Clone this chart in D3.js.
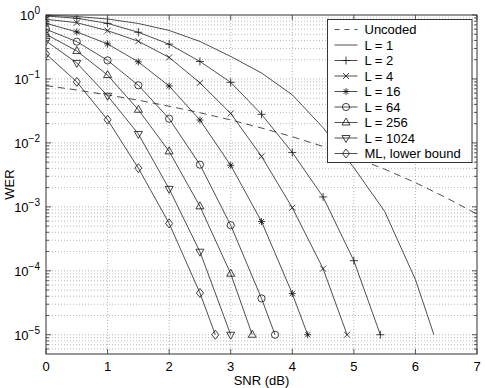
<!DOCTYPE html>
<html><head><meta charset="utf-8">
<script src="https://cdn.jsdelivr.net/npm/d3@7"></script>
<style>body{margin:0;background:#fff}svg{display:block}text{font-family:"Liberation Sans",Arial,sans-serif;fill:#000}</style>
</head><body><svg id="c" width="485" height="388"></svg>
<script>
// ---- data ----
const snrHalf = [0,0.5,1,1.5,2,2.5,3,3.5,4,4.5,5,5.5,6,6.5,7];
const uncodedX = [0,0.5,1,1.5,2,2.5,3,3.5,4,4.5,5,5.5,6,6.5,7];
const uncodedY = [0.0786,0.0671,0.0563,0.0465,0.0375,0.0296,0.0229,0.0171,0.0125,0.0088,0.00595,0.00388,0.00239,0.00139,0.00077];
const L1X = [0,0.5,1,1.5,2,2.5,3,3.5,4,4.5,5,5.5,6,6.3];
const L1Y = [0.989,0.947,0.866,0.737,0.573,0.386,0.225,0.124,0.0565,0.0173,0.0041,0.00085,0.000073,0.00001];
const L2X = [0,0.5,1,1.5,2,2.5,3,3.5,4,4.5,5,5.43];
const L2Y = [0.965,0.89,0.74,0.537,0.35,0.188,0.0885,0.028,0.0071,0.00143,0.000144,0.00001];
const L4X = [0,0.5,1,1.5,2,2.5,3,3.5,4,4.5,4.89];
const L4Y = [0.857,0.758,0.569,0.389,0.217,0.0869,0.0289,0.00616,0.00097,0.000108,0.00001];
const L16X = [0,0.5,1,1.5,2,2.5,3,3.5,4,4.25];
const L16Y = [0.742,0.543,0.353,0.185,0.0775,0.0228,0.00446,0.00059,0.000044,0.00001];
const L64X = [0,0.5,1,1.5,2,2.5,3,3.5,3.72];
const L64Y = [0.598,0.383,0.195,0.0795,0.0239,0.00457,0.000516,0.000037,0.00001];
const L256X = [0,0.5,1,1.5,2,2.5,3,3.35];
const L256Y = [0.5,0.274,0.115,0.033,0.00737,0.00102,0.00009,0.00001];
const L1024X = [0,0.5,1,1.5,2,2.5,3];
const L1024Y = [0.393,0.178,0.0545,0.0138,0.00191,0.000199,0.00001];
const MLX = [0,0.5,1,1.5,2,2.5,2.75];
const MLY = [0.246,0.090,0.023,0.00403,0.00055,0.000045,0.00001];
const seriesNames = ["Uncoded","L = 1","L = 2","L = 4","L = 16","L = 64","L = 256","L = 1024","ML, lower bound"];
const xTicks = [0,1,2,3,4,5,6,7];
const yTickExps = [0,-1,-2,-3,-4,-5];

// ---- layout ----
const W=485,H=388, m={l:46,r:8,t:15,b:34};
const svg=d3.select("#c");
const x=d3.scaleLinear().domain([0,7]).range([m.l,W-m.r]);
const y=d3.scaleLog().domain([5e-6,1]).range([H-m.b,m.t]);
const X0=m.l,X1=W-m.r,Y0=H-m.b,Y1=m.t;

// grid
const grid=svg.append("g").attr("stroke","#9a9a9a").attr("stroke-width",0.7).attr("stroke-dasharray","1,2");
const minorVals=[];
for(let e=-6;e<0;e++){for(let k=1;k<10;k++){const v=k*Math.pow(10,e); if(v>=5e-6&&v<=1) minorVals.push(v);}}
minorVals.push(1);
minorVals.forEach(v=>{ if(v<1) grid.append("line").attr("x1",X0).attr("x2",X1).attr("y1",y(v)).attr("y2",y(v)); });
xTicks.forEach(t=>{ if(t>0&&t<7) grid.append("line").attr("x1",x(t)).attr("x2",x(t)).attr("y1",Y0).attr("y2",Y1); });

// ticks (inward, all sides)
const tk=svg.append("g").attr("stroke","#333").attr("stroke-width",0.8);
xTicks.forEach(t=>{
  tk.append("line").attr("x1",x(t)).attr("x2",x(t)).attr("y1",Y0).attr("y2",Y0-5);
  tk.append("line").attr("x1",x(t)).attr("x2",x(t)).attr("y1",Y1).attr("y2",Y1+5);
});
minorVals.forEach(v=>{
  const major=Math.abs(Math.log10(v)-Math.round(Math.log10(v)))<1e-9;
  const len=major?5:3;
  tk.append("line").attr("x1",X0).attr("x2",X0+len).attr("y1",y(v)).attr("y2",y(v));
  tk.append("line").attr("x1",X1).attr("x2",X1-len).attr("y1",y(v)).attr("y2",y(v));
});

// axis labels
const lab=svg.append("g").attr("font-size",13);
xTicks.forEach(t=>{ lab.append("text").attr("x",x(t)).attr("y",Y0+17).attr("text-anchor","middle").text(t); });
yTickExps.forEach(e=>{
  const t=lab.append("text").attr("x",X0-6).attr("y",y(Math.pow(10,e))+5).attr("text-anchor","end");
  t.append("tspan").text("10");
  t.append("tspan").attr("dy",-6).attr("font-size",10).text(e<0?"\u2212"+(-e):e);
});
lab.append("text").attr("x",(X0+X1)/2).attr("y",H-3).attr("text-anchor","middle").text("SNR (dB)");
lab.append("text").attr("transform",`translate(14,${(Y0+Y1)/2}) rotate(-90)`).attr("text-anchor","middle").text("WER");

// markers
function marker(g,type,cx,cy){
  const s=g.append("path").attr("fill","none").attr("stroke","#111").attr("stroke-width",0.8);
  let d="";
  if(type==="+") d=`M${cx-4},${cy}H${cx+4}M${cx},${cy-4}V${cy+4}`;
  else if(type==="x") d=`M${cx-3},${cy-3}L${cx+3},${cy+3}M${cx-3},${cy+3}L${cx+3},${cy-3}`;
  else if(type==="*") d=`M${cx-3.5},${cy}H${cx+3.5}M${cx},${cy-3.5}V${cy+3.5}M${cx-2.5},${cy-2.5}L${cx+2.5},${cy+2.5}M${cx-2.5},${cy+2.5}L${cx+2.5},${cy-2.5}`;
  else if(type==="o") d=`M${cx+3.6},${cy}A3.6,3.6 0 1 1 ${cx-3.6},${cy}A3.6,3.6 0 1 1 ${cx+3.6},${cy}Z`;
  else if(type==="^") d=`M${cx},${cy-4.5}L${cx+4},${cy+2.5}L${cx-4},${cy+2.5}Z`;
  else if(type==="v") d=`M${cx},${cy+4.5}L${cx+4},${cy-2.5}L${cx-4},${cy-2.5}Z`;
  else if(type==="d") d=`M${cx},${cy-4.5}L${cx+3.5},${cy}L${cx},${cy+4.5}L${cx-3.5},${cy}Z`;
  s.attr("d",d);
}
const series=[
  {xs:uncodedX,ys:uncodedY,m:null,dash:"7,5"},
  {xs:L1X,ys:L1Y,m:null},
  {xs:L2X,ys:L2Y,m:"+"},
  {xs:L4X,ys:L4Y,m:"x"},
  {xs:L16X,ys:L16Y,m:"*"},
  {xs:L64X,ys:L64Y,m:"o"},
  {xs:L256X,ys:L256Y,m:"^"},
  {xs:L1024X,ys:L1024Y,m:"v"},
  {xs:MLX,ys:MLY,m:"d"}
];
const clip=svg.append("clipPath").attr("id","pc").append("rect").attr("x",X0).attr("y",Y1).attr("width",X1-X0).attr("height",Y0-Y1);
const plot=svg.append("g").attr("clip-path","url(#pc)");
const line=d3.line().x(d=>x(d[0])).y(d=>y(d[1]));
series.forEach(s=>{
  const pts=s.xs.map((v,i)=>[v,s.ys[i]]);
  plot.append("path").attr("d",line(pts)).attr("fill","none").attr("stroke","#222").attr("stroke-width",0.8)
    .attr("stroke-dasharray",s.dash||null);
  if(s.m) pts.forEach(p=>marker(plot,s.m,x(p[0]),y(p[1])));
});

// frame
svg.append("rect").attr("x",X0).attr("y",Y1).attr("width",X1-X0).attr("height",Y0-Y1).attr("fill","none").attr("stroke","#333").attr("stroke-width",1);

// legend
const lg=svg.append("g");
const lx=327.5, ly=19.5, lw=144.5, lh=143;
lg.append("rect").attr("x",lx).attr("y",ly).attr("width",lw).attr("height",lh).attr("fill","#fff").attr("stroke","#333").attr("stroke-width",1);
series.forEach((s,i)=>{
  const cy=ly+10+i*15.5;
  lg.append("line").attr("x1",lx+7).attr("x2",lx+30).attr("y1",cy).attr("y2",cy).attr("stroke","#222").attr("stroke-width",0.8).attr("stroke-dasharray",s.dash?"5,5":null);
  if(s.m) marker(lg,s.m,lx+18.5,cy);
  lg.append("text").attr("x",lx+37).attr("y",cy+4.5).attr("font-size",13).text(seriesNames[i]);
});
</script></body></html>
